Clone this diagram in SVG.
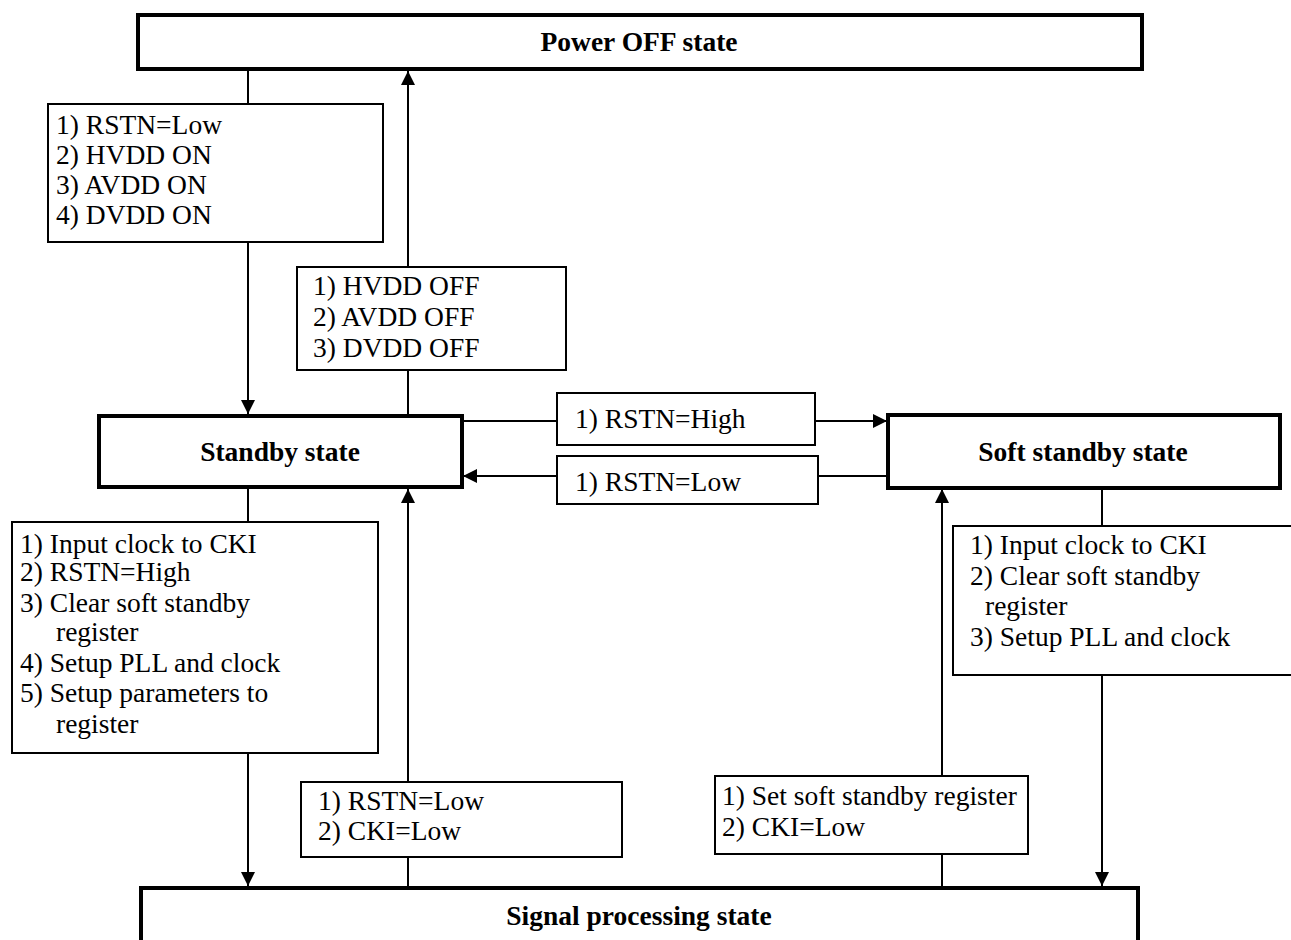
<svg xmlns="http://www.w3.org/2000/svg" width="1291" height="940" viewBox="0 0 1291 940">
<style>
.state{fill:#fff;stroke:#000;stroke-width:4}
.cond{fill:#fff;stroke:#000;stroke-width:2}
.t{font-family:"Liberation Serif","Times New Roman",serif;font-size:27.5px;fill:#000}
.b{font-family:"Liberation Serif","Times New Roman",serif;font-size:27.5px;font-weight:bold;fill:#000;text-anchor:middle}
.c{fill:none;stroke:#000;stroke-width:2}
</style>
<defs>
<marker id="ah" markerUnits="userSpaceOnUse" markerWidth="16" markerHeight="14" refX="14" refY="7" orient="auto">
<path d="M0,0 L14,7 L0,14 Z" fill="#000"/>
</marker>
</defs>
<rect width="1291" height="940" fill="#fff"/>
<g id="connectors">
<line class="c" x1="248" y1="69" x2="248" y2="104"/>
<line class="c" x1="248" y1="242" x2="248" y2="414" marker-end="url(#ah)"/>
<line class="c" x1="408" y1="416" x2="408" y2="370"/>
<line class="c" x1="408" y1="267" x2="408" y2="71" marker-end="url(#ah)"/>
<line class="c" x1="462" y1="421" x2="557" y2="421"/>
<line class="c" x1="815" y1="421" x2="887" y2="421" marker-end="url(#ah)"/>
<line class="c" x1="888" y1="476" x2="818" y2="476"/>
<line class="c" x1="557" y1="476" x2="463" y2="476" marker-end="url(#ah)"/>
<line class="c" x1="1102" y1="488" x2="1102" y2="526"/>
<line class="c" x1="1102" y1="675" x2="1102" y2="886" marker-end="url(#ah)"/>
<line class="c" x1="942" y1="776" x2="942" y2="489" marker-end="url(#ah)"/>
<line class="c" x1="942" y1="854" x2="942" y2="888"/>
<line class="c" x1="248" y1="487" x2="248" y2="522"/>
<line class="c" x1="248" y1="753" x2="248" y2="886" marker-end="url(#ah)"/>
<line class="c" x1="408" y1="782" x2="408" y2="489" marker-end="url(#ah)"/>
<line class="c" x1="408" y1="857" x2="408" y2="888"/>
</g>
<g id="power-off">
<rect class="state" x="138" y="15" width="1004" height="54"/>
<text class="b" x="639" y="51">Power OFF state</text>
</g>
<g id="cond-power-on">
<rect class="cond" x="48" y="104" width="335" height="138"/>
<text class="t" x="56" y="134">1) RSTN=Low</text>
<text class="t" x="56" y="164">2) HVDD ON</text>
<text class="t" x="56" y="194">3) AVDD ON</text>
<text class="t" x="56" y="224">4) DVDD ON</text>
</g>
<g id="cond-power-off">
<rect class="cond" x="297" y="267" width="269" height="103"/>
<text class="t" x="313" y="295">1) HVDD OFF</text>
<text class="t" x="313" y="326">2) AVDD OFF</text>
<text class="t" x="313" y="357">3) DVDD OFF</text>
</g>
<g id="standby">
<rect class="state" x="99" y="416" width="363" height="71"/>
<text class="b" x="280" y="461">Standby state</text>
</g>
<g id="cond-rstn-high">
<rect class="cond" x="557" y="393" width="258" height="52"/>
<text class="t" x="575" y="428">1) RSTN=High</text>
</g>
<g id="cond-rstn-low">
<rect class="cond" x="557" y="456" width="261" height="48"/>
<text class="t" x="575" y="491">1) RSTN=Low</text>
</g>
<g id="soft-standby">
<rect class="state" x="888" y="415" width="392" height="73"/>
<text class="b" x="1083" y="461">Soft standby state</text>
</g>
<g id="cond-soft-to-signal">
<rect class="cond" x="953" y="526" width="345" height="149"/>
<text class="t" x="970" y="554">1) Input clock to CKI</text>
<text class="t" x="970" y="585">2) Clear soft standby</text>
<text class="t" x="985" y="615">register</text>
<text class="t" x="970" y="646">3) Setup PLL and clock</text>
</g>
<g id="cond-standby-to-signal">
<rect class="cond" x="12" y="522" width="366" height="231"/>
<text class="t" x="20" y="553">1) Input clock to CKI</text>
<text class="t" x="20" y="581">2) RSTN=High</text>
<text class="t" x="20" y="612">3) Clear soft standby</text>
<text class="t" x="56" y="641">register</text>
<text class="t" x="20" y="672">4) Setup PLL and clock</text>
<text class="t" x="20" y="702">5) Setup parameters to</text>
<text class="t" x="56" y="733">register</text>
</g>
<g id="cond-signal-to-standby">
<rect class="cond" x="301" y="782" width="321" height="75"/>
<text class="t" x="318" y="810">1) RSTN=Low</text>
<text class="t" x="318" y="840">2) CKI=Low</text>
</g>
<g id="cond-signal-to-soft">
<rect class="cond" x="715" y="776" width="313" height="78"/>
<text class="t" x="722" y="805">1) Set soft standby register</text>
<text class="t" x="722" y="836">2) CKI=Low</text>
</g>
<g id="signal-processing">
<rect class="state" x="141" y="888" width="997" height="70"/>
<text class="b" x="639" y="925">Signal processing state</text>
</g>
</svg>
